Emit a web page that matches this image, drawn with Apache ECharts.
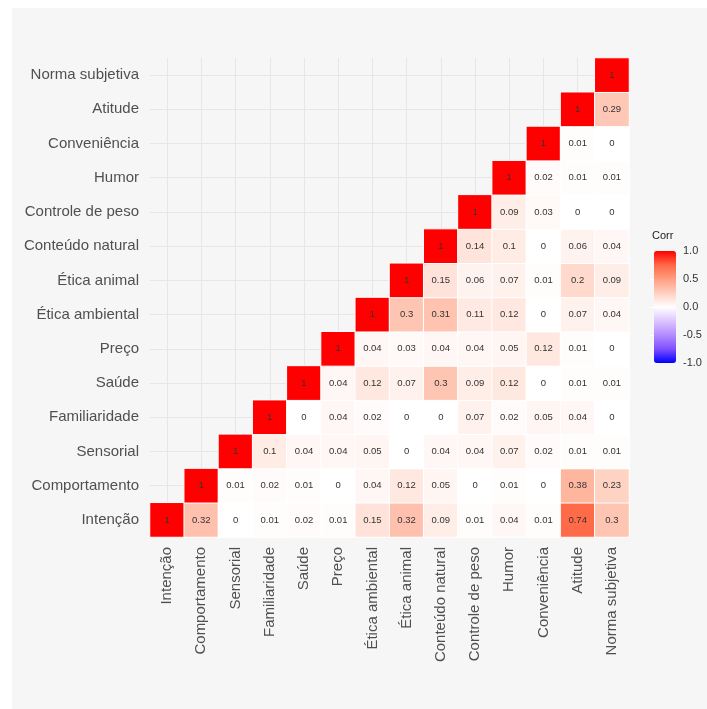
<!DOCTYPE html>
<html>
<head>
<meta charset="utf-8">
<script src="https://cdn.jsdelivr.net/npm/echarts@6/dist/echarts.min.js"></script>
<style>
  html, body { margin: 0; padding: 0; background: #fff; }
  #chart { width: 707px; height: 709px; }
</style>
</head>
<body>
<div id="chart"></div>
<script>
// variáveis, na ordem dos eixos (x da esquerda p/ direita, y de baixo p/ cima)
const variables = [
  "Intenção", "Comportamento", "Sensorial", "Familiaridade", "Saúde", "Preço",
  "Ética ambiental", "Ética animal", "Conteúdo natural", "Controle de peso",
  "Humor", "Conveniência", "Atitude", "Norma subjetiva"
];

// cada linha começa na diagonal (valor 1) e vai até "Norma subjetiva"
const corrIntencao = [1, 0.32, 0, 0.01, 0.02, 0.01, 0.15, 0.32, 0.09, 0.01, 0.04, 0.01, 0.74, 0.3];
const corrComportamento = [1, 0.01, 0.02, 0.01, 0, 0.04, 0.12, 0.05, 0, 0.01, 0, 0.38, 0.23];
const corrSensorial = [1, 0.1, 0.04, 0.04, 0.05, 0, 0.04, 0.04, 0.07, 0.02, 0.01, 0.01];
const corrFamiliaridade = [1, 0, 0.04, 0.02, 0, 0, 0.07, 0.02, 0.05, 0.04, 0];
const corrSaude = [1, 0.04, 0.12, 0.07, 0.3, 0.09, 0.12, 0, 0.01, 0.01];
const corrPreco = [1, 0.04, 0.03, 0.04, 0.04, 0.05, 0.12, 0.01, 0];
const corrEticaAmbiental = [1, 0.3, 0.31, 0.11, 0.12, 0, 0.07, 0.04];
const corrEticaAnimal = [1, 0.15, 0.06, 0.07, 0.01, 0.2, 0.09];
const corrConteudoNatural = [1, 0.14, 0.1, 0, 0.06, 0.04];
const corrControlePeso = [1, 0.09, 0.03, 0, 0];
const corrHumor = [1, 0.02, 0.01, 0.01];
const corrConveniencia = [1, 0.01, 0];
const corrAtitude = [1, 0.29];
const corrNorma = [1];

const corrRows = [
  corrIntencao, corrComportamento, corrSensorial, corrFamiliaridade, corrSaude,
  corrPreco, corrEticaAmbiental, corrEticaAnimal, corrConteudoNatural,
  corrControlePeso, corrHumor, corrConveniencia, corrAtitude, corrNorma
];

const legendTicks = [-1, -0.5, 0, 0.5, 1];

const cells = [];
corrRows.forEach((row, i) => {
  row.forEach((v, k) => cells.push([i + k, i, v]));
});

const font = "Liberation Sans";

const option = {
  backgroundColor: "#f6f6f6",
  animation: false,
  textStyle: { fontFamily: font },
  // margem branca em cima e à esquerda
  graphic: [
    { type: "rect", left: 0, top: 0, shape: { width: 707, height: 8 }, style: { fill: "#fff" }, silent: true },
    { type: "rect", left: 0, top: 0, shape: { width: 12, height: 709 }, style: { fill: "#fff" }, silent: true }
  ],
  title: {
    text: "Corr",
    left: 652,
    top: 230,
    padding: 0,
    textStyle: { fontSize: 11, fontWeight: "normal", color: "#222", fontFamily: font }
  },
  grid: [
    { left: 150, top: 58, width: 479, height: 479 },
    { left: 654, top: 251, width: 22, height: 112 }
  ],
  xAxis: [
    {
      type: "category",
      gridIndex: 0,
      data: variables,
      axisLine: { show: false },
      axisTick: { show: false },
      axisLabel: { rotate: 90, margin: 10, fontSize: 15, color: "#505050", fontFamily: font },
      splitLine: { show: true, alignWithLabel: true, lineStyle: { color: "#e6e6e6", width: 1 } }
    },
    { type: "value", gridIndex: 1, show: false, min: 0, max: 1 }
  ],
  yAxis: [
    {
      type: "category",
      gridIndex: 0,
      data: variables,
      axisLine: { show: false },
      axisTick: { show: false },
      axisLabel: { margin: 11, fontSize: 15, color: "#505050", fontFamily: font },
      splitLine: { show: true, alignWithLabel: true, lineStyle: { color: "#e6e6e6", width: 1 } }
    },
    {
      type: "value",
      gridIndex: 1,
      position: "right",
      min: legendTicks[0],
      max: legendTicks[legendTicks.length - 1],
      interval: 0.5,
      axisLine: { show: false },
      axisTick: { show: true, inside: true, length: 4, lineStyle: { color: "#fff", width: 1 } },
      axisLabel: {
        margin: 7, fontSize: 11, color: "#333", fontFamily: font,
        formatter: v => v.toFixed(1)
      },
      splitLine: { show: false }
    },
    {
      type: "value",
      gridIndex: 1,
      position: "left",
      min: legendTicks[0],
      max: legendTicks[legendTicks.length - 1],
      interval: 0.5,
      axisLine: { show: false },
      axisTick: { show: true, inside: true, length: 4, lineStyle: { color: "#fff", width: 1 } },
      axisLabel: { show: false },
      splitLine: { show: false }
    }
  ],
  visualMap: {
    type: "continuous",
    seriesIndex: 0,
    min: -1,
    max: 1,
    orient: "vertical",
    left: 654,
    top: 251,
    padding: 0,
    itemWidth: 22,
    itemHeight: 112,
    calculable: false,
    showLabel: false,
    text: null,
    z: 1,
    inRange: {
      color: ["#0000FF", "#7E51FF", "#B38BFF", "#DCC5FF", "#FFFFFF", "#FFCFBF", "#FF9E81", "#FF6846", "#FF0000"]
    }
  },
  series: [
    {
      type: "heatmap",
      xAxisIndex: 0,
      yAxisIndex: 0,
      data: cells,
      itemStyle: { borderColor: "#fff", borderWidth: 1 },
      label: {
        show: true,
        fontSize: 9.5,
        color: "#333",
        fontFamily: font,
        formatter: p => String(p.value[2])
      }
    }
  ]
};

const chart = echarts.init(document.getElementById("chart"));
chart.setOption(option);
</script>
</body>
</html>
